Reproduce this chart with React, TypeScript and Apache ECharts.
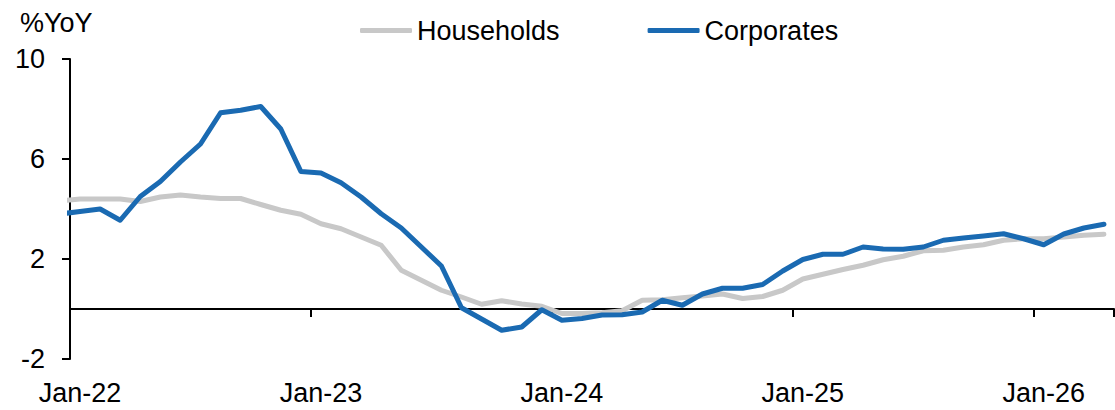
import React, { useEffect, useRef } from "react";
import * as echarts from "echarts";

// Months: the first entry (Dec-21) lies just left of the plot and is clipped
const months = [
  "Dec-21",
  "Jan-22", "Feb-22", "Mar-22", "Apr-22", "May-22", "Jun-22", "Jul-22", "Aug-22", "Sep-22", "Oct-22", "Nov-22", "Dec-22",
  "Jan-23", "Feb-23", "Mar-23", "Apr-23", "May-23", "Jun-23", "Jul-23", "Aug-23", "Sep-23", "Oct-23", "Nov-23", "Dec-23",
  "Jan-24", "Feb-24", "Mar-24", "Apr-24", "May-24", "Jun-24", "Jul-24", "Aug-24", "Sep-24", "Oct-24", "Nov-24", "Dec-24",
  "Jan-25", "Feb-25", "Mar-25", "Apr-25", "May-25", "Jun-25", "Jul-25", "Aug-25", "Sep-25", "Oct-25", "Nov-25", "Dec-25",
  "Jan-26", "Feb-26", "Mar-26", "Apr-26",
];

const households = [
  4.33,
  4.4, 4.4, 4.4, 4.3, 4.48, 4.56, 4.48, 4.42, 4.42, 4.18, 3.95, 3.79,
  3.41, 3.21, 2.88, 2.55, 1.55, 1.15, 0.75, 0.48, 0.19, 0.33, 0.2, 0.11,
  -0.18, -0.18, -0.15, -0.07, 0.35, 0.37, 0.45, 0.52, 0.6, 0.42, 0.5, 0.75,
  1.2, 1.39, 1.58, 1.75, 1.97, 2.11, 2.33, 2.35, 2.48, 2.57, 2.75, 2.81,
  2.81, 2.88, 2.95, 2.99,
];

const corporates = [
  3.8,
  3.9, 4.0, 3.55, 4.5, 5.1, 5.88, 6.6, 7.85, 7.95, 8.1, 7.2, 5.5,
  5.44, 5.05, 4.48, 3.81, 3.24, 2.48, 1.72, 0.05, -0.4, -0.85, -0.72, -0.03,
  -0.45, -0.38, -0.24, -0.23, -0.12, 0.35, 0.15, 0.6, 0.83, 0.83, 0.98, 1.52,
  1.98, 2.19, 2.19, 2.48, 2.4, 2.39, 2.48, 2.75, 2.84, 2.92, 3.01, 2.81,
  2.57, 3.0, 3.24, 3.39,
];

const yTicks = { min: -2, max: 10, interval: 4 };
const FONT = '"Liberation Sans", Arial, sans-serif';
const BLUE = "#1a6ab2";
const GREY = "#c8c8c8";

export default function App() {
  const ref = useRef<HTMLDivElement>(null);

  useEffect(() => {
    document.body.style.margin = "0";
    if (!ref.current) return;
    const chart = echarts.init(ref.current, undefined, { renderer: "svg" });
    const cats = months.slice(1);
    const toPairs = (arr: number[]) => arr.map((v, i) => [i - 1, v]);

    chart.setOption({
      animation: false,
      textStyle: { fontFamily: FONT },
      grid: { left: 70, right: 1, top: 59, bottom: 51, containLabel: false },
      legend: {
        left: 355,
        top: 12,
        icon: "roundRect",
        itemWidth: 52,
        itemHeight: 5,
        itemGap: 88,
        textStyle: { fontSize: 27, color: "#000", fontFamily: FONT },
        data: ["Households", "Corporates"],
      },
      graphic: [
        {
          type: "text",
          x: 20,
          y: 23,
          style: {
            text: "%YoY",
            fontSize: 27,
            fontFamily: FONT,
            fill: "#000",
            verticalAlign: "middle",
          },
        },
      ],
      xAxis: [
        {
          type: "category",
          position: "bottom",
          data: cats,
          boundaryGap: true,
          axisLine: { show: true, onZero: true, lineStyle: { color: "#000", width: 2 } },
          axisTick: { show: true, interval: 11, length: 8, lineStyle: { color: "#000", width: 2 } },
          axisLabel: { show: false },
          splitLine: { show: false },
        },
        {
          type: "category",
          position: "bottom",
          data: cats,
          boundaryGap: true,
          axisLine: { show: false, onZero: false },
          axisTick: { show: false },
          axisLabel: {
            show: true,
            interval: 11,
            margin: 20,
            fontSize: 27,
            color: "#000",
            fontFamily: FONT,
          },
          splitLine: { show: false },
        },
        {
          type: "value",
          min: -0.5,
          max: cats.length - 0.5,
          show: false,
          splitLine: { show: false },
        },
      ],
      yAxis: {
        type: "value",
        min: yTicks.min,
        max: yTicks.max,
        interval: yTicks.interval,
        axisLine: { show: true, onZero: false, lineStyle: { color: "#000", width: 2 } },
        axisTick: { show: true, length: 8, lineStyle: { color: "#000", width: 2 } },
        axisLabel: { margin: 25, fontSize: 27, color: "#000", fontFamily: FONT },
        splitLine: { show: false },
      },
      series: [
        {
          name: "Households",
          type: "line",
          xAxisIndex: 2,
          data: toPairs(households),
          symbol: "none",
          color: GREY,
          lineStyle: { color: GREY, width: 5, cap: "round", join: "round" },
          clip: true,
        },
        {
          name: "Corporates",
          type: "line",
          xAxisIndex: 2,
          data: toPairs(corporates),
          symbol: "none",
          color: BLUE,
          lineStyle: { color: BLUE, width: 5, cap: "round", join: "round" },
          clip: true,
        },
      ],
    });
    return () => chart.dispose();
  }, []);

  return <div ref={ref} style={{ width: 1115, height: 410 }} />;
}
